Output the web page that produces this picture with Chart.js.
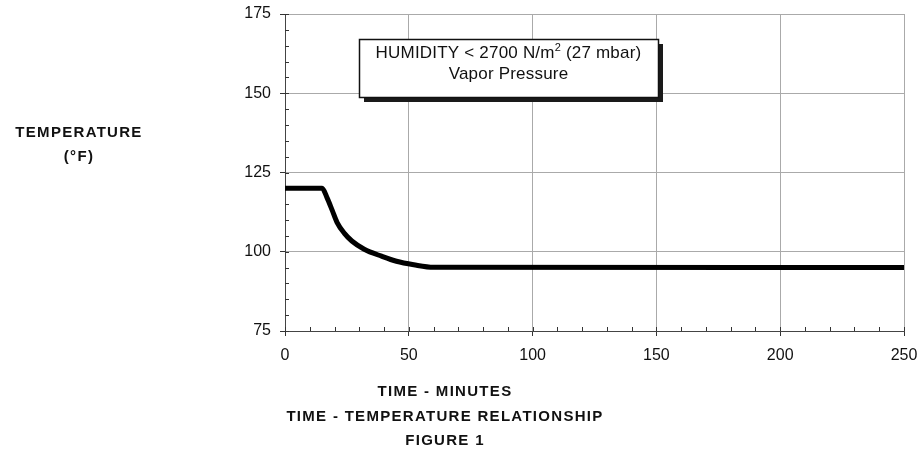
<!DOCTYPE html>
<html>
<head>
<meta charset="utf-8">
<script src="https://cdn.jsdelivr.net/npm/chart.js@4"></script>
<style>
  html, body { margin: 0; padding: 0; background: #fff; }
  #wrap { width: 921px; height: 449px; position: relative; }
</style>
</head>
<body>
<div id="wrap"><canvas id="c" width="921" height="449"></canvas></div>
<script>
// ---- data ----
const timeMinutes = [0, 15, 17, 19, 21, 24, 27, 32, 39, 45, 52, 60, 250];
const temperatureF = [120, 120, 117, 113.2, 109.3, 105.8, 103.4, 100.8, 98.6, 97, 95.9, 95.1, 95];
const xTicks = [0, 50, 100, 150, 200, 250];
const yTicks = [75, 100, 125, 150, 175];
const yTitleLines = ['TEMPERATURE', '(°F)'];
const xTitleLines = ['TIME - MINUTES', 'TIME - TEMPERATURE RELATIONSHIP', 'FIGURE 1'];
const noteLine1 = ['HUMIDITY < 2700 N/m', '2', ' (27 mbar)'];
const noteLine2 = 'Vapor Pressure';
// note box extent in data units
const noteBox = { x0: 30, x1: 150.8, y0: 167.1, y1: 148.8 };

const FONT = '"Liberation Sans", Arial, Helvetica, sans-serif';

const points = timeMinutes.map((t, i) => ({ x: t, y: temperatureF[i] }));

const decorPlugin = {
  id: 'decor',
  beforeDatasetsDraw(chart) {
    const ctx = chart.ctx;
    const xs = chart.scales.x, ys = chart.scales.y;
    const a = chart.chartArea;
    ctx.save();
    ctx.strokeStyle = '#333';
    ctx.lineWidth = 1;
    ctx.beginPath();
    for (let v = 0; v <= 250; v += 10) {
      const px = Math.round(xs.getPixelForValue(v)) + 0.5;
      ctx.moveTo(px, a.bottom);
      ctx.lineTo(px, a.bottom - 4);
    }
    for (let v = 75; v <= 175; v += 5) {
      const py = Math.round(ys.getPixelForValue(v)) + 0.5;
      ctx.moveTo(a.left, py);
      ctx.lineTo(a.left + 4, py);
    }
    ctx.stroke();
    ctx.restore();
  },
  afterDatasetsDraw(chart) {
    const ctx = chart.ctx;
    const xs = chart.scales.x, ys = chart.scales.y;
    const bx0 = Math.round(xs.getPixelForValue(noteBox.x0));
    const bx1 = Math.round(xs.getPixelForValue(noteBox.x1));
    const by0 = Math.round(ys.getPixelForValue(noteBox.y0));
    const by1 = Math.round(ys.getPixelForValue(noteBox.y1));
    ctx.save();
    ctx.fillStyle = '#1a1a1a';
    ctx.fillRect(bx0 + 5, by0 + 5, bx1 - bx0, by1 - by0);
    ctx.fillStyle = '#fff';
    ctx.fillRect(bx0, by0, bx1 - bx0, by1 - by0);
    ctx.strokeStyle = '#111';
    ctx.lineWidth = 1.5;
    ctx.strokeRect(bx0 + 0.5, by0 + 0.5, bx1 - bx0, by1 - by0);

    const cx = (bx0 + bx1) / 2;
    ctx.fillStyle = '#111';
    ctx.textBaseline = 'alphabetic';
    try { ctx.letterSpacing = '0.2px'; } catch (e) {}
    const main = '17px ' + FONT, sup = '11px ' + FONT;
    ctx.font = main;
    const w1 = ctx.measureText(noteLine1[0]).width;
    const w3 = ctx.measureText(noteLine1[2]).width;
    ctx.font = sup;
    const w2 = ctx.measureText(noteLine1[1]).width;
    let x = cx - (w1 + w2 + w3) / 2;
    const base1 = by0 + 19;
    ctx.textAlign = 'left';
    ctx.font = main; ctx.fillText(noteLine1[0], x, base1); x += w1;
    ctx.font = sup; ctx.fillText(noteLine1[1], x, base1 - 7); x += w2;
    ctx.font = main; ctx.fillText(noteLine1[2], x, base1);
    ctx.textAlign = 'center';
    ctx.fillText(noteLine2, cx, by0 + 40);
    ctx.restore();
  },
  afterDraw(chart) {
    const ctx = chart.ctx;
    ctx.save();
    ctx.fillStyle = '#111';
    ctx.textAlign = 'center';
    ctx.textBaseline = 'middle';
    ctx.font = 'bold 15px ' + FONT;
    try { ctx.letterSpacing = '1.3px'; } catch (e) {}
    ctx.fillText(yTitleLines[0], 79, 133);
    ctx.fillText(yTitleLines[1], 79, 157);
    const xc = 445;
    ctx.fillText(xTitleLines[0], xc, 392);
    ctx.fillText(xTitleLines[1], xc, 417);
    ctx.fillText(xTitleLines[2], xc, 441);
    ctx.restore();
  }
};

new Chart(document.getElementById('c'), {
  type: 'line',
  data: {
    datasets: [{
      data: points,
      borderColor: '#000',
      borderWidth: 5,
      pointRadius: 0,
      fill: false,
      cubicInterpolationMode: 'monotone',
      borderCapStyle: 'butt',
      borderJoinStyle: 'round'
    }]
  },
  options: {
    responsive: false,
    animation: false,
    events: [],
    layout: { padding: { top: 14, right: 17, left: 0, bottom: 0 } },
    plugins: { legend: { display: false }, tooltip: { enabled: false }, title: { display: false } },
    scales: {
      x: {
        type: 'linear',
        min: 0, max: 250,
        afterBuildTicks: (s) => { s.ticks = xTicks.map(v => ({ value: v })); },
        afterFit: (s) => { s.height = 118; s.paddingLeft = 0; s.paddingRight = 0; },
        grid: { color: '#aaa', lineWidth: 1, tickLength: 5, tickColor: '#333', drawTicks: true },
        border: { color: '#444', width: 1 },
        ticks: { color: '#111', font: { family: FONT, size: 16 }, padding: 10, maxRotation: 0 }
      },
      y: {
        type: 'linear',
        min: 75, max: 175,
        afterBuildTicks: (s) => { s.ticks = yTicks.map(v => ({ value: v })); },
        afterFit: (s) => { s.width = 285; s.paddingTop = 0; s.paddingBottom = 0; },
        grid: { color: '#aaa', lineWidth: 1, tickLength: 5, tickColor: '#333', drawTicks: true },
        border: { color: '#444', width: 1 },
        ticks: { color: '#111', font: { family: FONT, size: 16 }, padding: 9 }
      }
    }
  },
  plugins: [decorPlugin]
});
</script>
</body>
</html>
